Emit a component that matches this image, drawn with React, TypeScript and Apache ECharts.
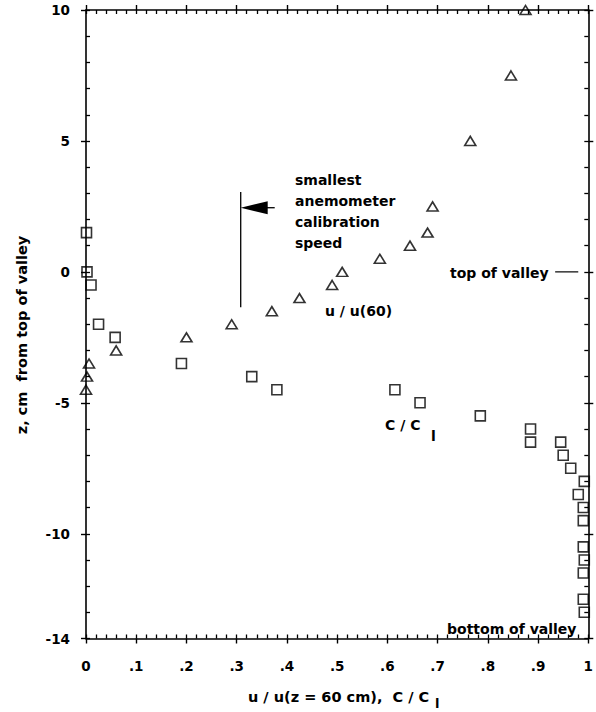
import React, { useEffect, useRef } from 'react';
import * as echarts from 'echarts';

// u / u(60) (triangles)
const triX = [0.875, 0.846, 0.765, 0.69, 0.68, 0.645, 0.585, 0.51, 0.49, 0.425, 0.37, 0.29, 0.2, 0.06, 0.006, 0.002, 0];
const triZ = [10, 7.5, 5, 2.5, 1.5, 1, 0.5, 0, -0.5, -1, -1.5, -2, -2.5, -3, -3.5, -4, -4.5];
// C / C_l (squares)
const sqX = [0.001, 0.002, 0.01, 0.025, 0.058, 0.19, 0.33, 0.38, 0.615, 0.665, 0.785, 0.885, 0.885, 0.945, 0.95, 0.965, 0.992, 0.98, 0.99, 0.99, 0.99, 0.992, 0.99, 0.99, 0.992];
const sqZ = [1.5, 0, -0.5, -2, -2.5, -3.5, -4, -4.5, -4.5, -5, -5.5, -6, -6.5, -6.5, -7, -7.5, -8, -8.5, -9, -9.5, -10.5, -11, -11.5, -12.5, -13];
// axis tick labels
const yLabels = [-14, -10, -5, 0, 5, 10];
const xLabels = ['0', '.1', '.2', '.3', '.4', '.5', '.6', '.7', '.8', '.9', '1'];
// annotation values
const calibSpeed = 0.308;
const calibArrowZ = 2.45;
const calibLine = [3.05, -1.35];
const valleyTopZ = 0;
const valleyTickX = [0.934, 0.98];

const FONT = '"DejaVu Sans", "Liberation Sans", Arial, sans-serif';
const BLACK = '#000';

export default function App() {
  const ref = useRef<HTMLDivElement>(null);
  useEffect(() => {
    const chart = echarts.init(ref.current!, null, { renderer: 'svg' });
    const lineStyle = { color: BLACK, width: 1.6 };
    const majorX = { show: true, length: 5, inside: false, lineStyle: { color: BLACK, width: 1.4 } };
    const minorX = { show: true, length: 4, inside: true, lineStyle: { color: BLACK, width: 1.3 } };
    const baseX = { type: 'value', min: 0, max: 1, splitLine: { show: false } };
    const baseY = { type: 'value', min: -14, max: 10, interval: 1, splitLine: { show: false } };
    const shownLine = { show: true, onZero: false, lineStyle };
    const hiddenLine = { show: false, onZero: false };
    const hidden = { show: false };
    const option: any = {
      animation: false,
      backgroundColor: '#fff',
      grid: { left: 86, top: 10, width: 507.5, height: 628.5, containLabel: false },
      xAxis: [
        {
          ...baseX, position: 'bottom', interval: 0.1,
          axisLine: shownLine,
          axisTick: majorX,
          axisLabel: {
            show: true, margin: 20, color: BLACK, fontFamily: FONT, fontWeight: 'bold', fontSize: 13.5,
            formatter: (v: number) => xLabels[Math.round(v * 10)] ?? '',
          },
        },
        { ...baseX, position: 'bottom', interval: 0.02, axisLine: hiddenLine, axisTick: minorX, axisLabel: hidden },
        { ...baseX, position: 'top', interval: 0.1, axisLine: shownLine, axisTick: majorX, axisLabel: hidden },
        { ...baseX, position: 'top', interval: 0.02, axisLine: hiddenLine, axisTick: minorX, axisLabel: hidden },
      ],
      yAxis: [
        {
          ...baseY, position: 'left',
          axisLine: shownLine,
          axisTick: { ...majorX, customValues: yLabels },
          axisLabel: {
            show: true, margin: 16, color: BLACK, fontFamily: FONT, fontWeight: 'bold', fontSize: 13.5,
            customValues: yLabels, formatter: (v: number) => String(v),
          },
        },
        { ...baseY, position: 'left', axisLine: hiddenLine, axisTick: minorX, axisLabel: hidden },
        { ...baseY, position: 'right', axisLine: shownLine, axisTick: { ...majorX, customValues: yLabels }, axisLabel: hidden },
        { ...baseY, position: 'right', axisLine: hiddenLine, axisTick: minorX, axisLabel: hidden },
      ],
      series: [
        {
          name: 'u / u(60)', type: 'scatter', xAxisIndex: 0, yAxisIndex: 0, clip: false,
          symbol: 'triangle', symbolSize: [11, 9],
          itemStyle: { color: 'rgba(255,255,255,0)', borderColor: BLACK, borderWidth: 1.6 },
          data: triX.map((x, i) => [x, triZ[i]]),
        },
        {
          name: 'C / Cl', type: 'scatter', xAxisIndex: 0, yAxisIndex: 0, clip: false,
          symbol: 'rect', symbolSize: 10,
          itemStyle: { color: 'rgba(255,255,255,0)', borderColor: BLACK, borderWidth: 1.6 },
          data: sqX.map((x, i) => [x, sqZ[i]]),
        },
      ],
    };
    chart.setOption(option);

    const P = (x: number, y: number) => chart.convertToPixel({ seriesIndex: 0 }, [x, y]) as number[];
    const lt = P(calibSpeed, calibLine[0]);
    const lb = P(calibSpeed, calibLine[1]);
    const tip = P(calibSpeed, calibArrowZ);
    const v0 = P(valleyTickX[0], valleyTopZ);
    const v1 = P(valleyTickX[1], valleyTopZ);
    const txt = (text: string, x: number, y: number, size = 14, extra: any = {}) => ({
      type: 'text', x, y,
      style: { text, fill: BLACK, fontFamily: FONT, fontWeight: 'bold', fontSize: size, verticalAlign: 'middle', align: 'left', ...extra },
      silent: true,
    });
    chart.setOption({
      graphic: [
        { type: 'line', shape: { x1: lt[0], y1: lt[1], x2: lb[0], y2: lb[1] }, style: { stroke: BLACK, lineWidth: 1.3 }, silent: true },
        {
          type: 'polygon',
          shape: { points: [[tip[0], tip[1]], [tip[0] + 27, tip[1] - 6.5], [tip[0] + 27, tip[1] + 6.5]] },
          style: { fill: BLACK }, silent: true,
        },
        { type: 'line', shape: { x1: tip[0] + 25, y1: tip[1], x2: tip[0] + 34, y2: tip[1] }, style: { stroke: BLACK, lineWidth: 1.3 }, silent: true },
        txt('smallest\nanemometer\ncalibration\nspeed', 295, 169.5, 14, { verticalAlign: 'top', lineHeight: 21 }),
        txt('u / u(60)', 325, 311),
        txt('top of valley', 450, 273),
        { type: 'line', shape: { x1: v0[0], y1: v0[1], x2: v1[0], y2: v1[1] }, style: { stroke: BLACK, lineWidth: 1.2 }, silent: true },
        txt('C / C', 385, 425),
        txt('l', 431, 436, 14),
        txt('bottom of valley', 447, 628.5),
        txt('u / u(z = 60 cm),  C / C', 248, 697, 14.5),
        txt('l', 435, 703, 13),
        {
          type: 'text', x: 22, y: 335, rotation: Math.PI / 2, silent: true,
          style: { text: 'z, cm  from top of valley', fill: BLACK, fontFamily: FONT, fontWeight: 'bold', fontSize: 14.5, align: 'center', verticalAlign: 'middle' },
        },
      ],
    });
    return () => chart.dispose();
  }, []);
  return <div ref={ref} style={{ position: 'fixed', left: 0, top: 0, width: 596, height: 712, background: '#fff' }} />;
}
